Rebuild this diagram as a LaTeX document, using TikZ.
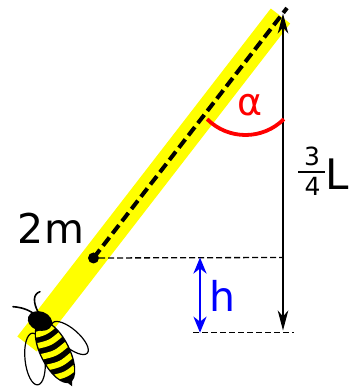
\documentclass[tikz,border=0pt]{standalone}
\usepackage{fontspec}
\setmainfont{DejaVu Sans}
\usetikzlibrary{arrows.meta}
\definecolor{rodyellow}{RGB}{255,255,0}
\definecolor{dimblue}{RGB}{0,0,255}
\definecolor{anglered}{RGB}{255,0,0}
\begin{document}
\begin{tikzpicture}[x=1pt,y=1pt,
  rod/.style={line width=24.5pt, rodyellow},
  rodaxis/.style={line width=4pt, dash pattern=on 10.5pt off 5pt},
  guide/.style={line width=1.3pt, dash pattern=on 6pt off 3pt},
  blackdim/.style={line width=2pt,
    {Stealth[length=20pt,width=10.5pt,inset=6pt]}-{Stealth[length=20pt,width=10.5pt,inset=6pt]}},
  bluedim/.style={line width=2.7pt, dimblue,
    {Stealth[length=16pt,width=13pt,inset=5pt]}-{Stealth[length=16pt,width=13pt,inset=5pt]}},
  lbl/.style={inner sep=0pt, font=\fontsize{41}{49}\selectfont},
  fraclbl/.style={inner sep=0pt, font=\fontsize{25}{30}\selectfont},
  wing/.style={line width=1.2pt},
  antenna/.style={line width=1.6pt, line cap=round},
  stripe/.style={rodyellow, line width=5.8pt},
]
\useasboundingbox (0,0) rectangle (348,388);
\clip (0,0) rectangle (348,388);

% key points
\coordinate (rodtop) at (280.5,372);
\coordinate (rodend) at (27,44);
\coordinate (pivot) at (287,380);
\coordinate (g1) at (283,130.5);
\coordinate (g2a) at (193,55.3);
\coordinate (g2b) at (294,55.3);
\coordinate (ltop) at (283,374.5);
\coordinate (lbot) at (283,57.5);
\coordinate (htop) at (200,130.5);
\coordinate (hbot) at (200,55.3);
\coordinate (arcstart) at (207.1,268.9);
\coordinate (barl) at (298,216);
\coordinate (barr) at (325,216);

% the rod and its axis
\draw[rod] (rodtop) -- (rodend);
\node[circle, fill=black, inner sep=0pt, minimum size=11pt] (mass) at (93.5,130) {};
\draw[rodaxis] (mass.center) -- (pivot);

% height guides
\draw[guide] (mass) -- (g1);
\draw[guide] (g2a) -- (g2b);

% dimension arrows
\draw[blackdim] (ltop) -- (lbot);
\draw[bluedim] (htop) -- (hbot);

% angle arc
\draw[anglered, line width=3.8pt] (arcstart) arc[start angle=225, end angle=315, radius=54.3];

% labels
\node[lbl] (mlabel) at (51,160) {2m};
\node[lbl, anglered, font=\fontsize{38}{44}\selectfont] (alpha) at (250,283) {α};
\node[lbl, dimblue] (hlabel) at (222.5,92) {h};
\node[lbl, anchor=west, font=\fontsize{42}{50}\selectfont] (Llabel) at (324.8,214) {L};
\node[fraclbl] (num) at (312,232) {3};
\node[fraclbl] (den) at (312.5,201.5) {4};
\draw[line width=2pt] (barl) -- (barr);

% the bee
\draw[wing, rotate around={96:(35,29)}] (35,29) ellipse [x radius=26, y radius=10];
\draw[wing, rotate around={-41:(70,50)}] (70,50) ellipse [x radius=23, y radius=9];
\draw[antenna] (38,76) .. controls (33,86) and (33,94) .. (40,96.3);
\draw[antenna] (33,75) .. controls (25,80) and (18,81) .. (13,81.3);
\begin{scope}[shift={(55,36)}, rotate=-63.4]
  \fill (0,0) ellipse [x radius=34, y radius=15];
  \fill (31,-3.5) -- (38.5,0) -- (31,3.5) -- cycle;
  \begin{scope}
    \clip (0,0) ellipse [x radius=32.5, y radius=13.6];
    \foreach \u in {-25.6,-14,-2.2,9.8,21.5}
      \draw[stripe] (\u,-16) .. controls (\u+4,0) .. (\u,16);
  \end{scope}
\end{scope}
\fill[rotate around={-20:(40,67)}] (40,67) ellipse [x radius=12.5, y radius=9.5];
\end{tikzpicture}
\end{document}
